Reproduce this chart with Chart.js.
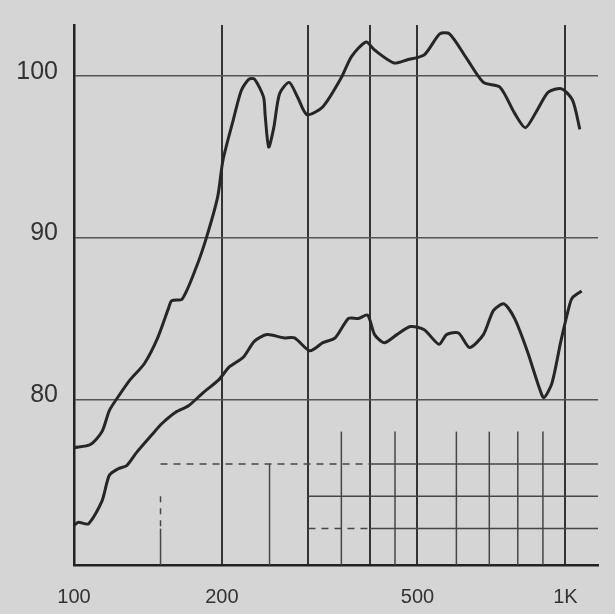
<!DOCTYPE html>
<html>
<head>
<meta charset="utf-8">
<script src="https://cdn.jsdelivr.net/npm/chart.js@4/dist/chart.umd.min.js"></script>
<style>
  body { margin: 0; background: #d5d5d5; }
  canvas { display: block; }
</style>
</head>
<body>
<canvas id="responseChart" width="615" height="614"></canvas>
<script>
// Upper response curve (Hz, dB)
const upperFreq = [100, 108, 114, 118, 122, 130, 139, 148, 156, 158, 166, 177, 186, 196, 201, 211, 219, 227, 233, 243, 245, 249, 255, 262, 274, 285, 298, 321, 350, 367, 393, 409, 448, 477, 516, 555, 581, 629, 681, 736, 788, 829, 873, 923, 983, 1034, 1070];
const upperLevel = [77.0, 77.2, 78.0, 79.3, 80.0, 81.2, 82.2, 83.8, 85.7, 86.1, 86.2, 88.1, 90.0, 92.5, 94.8, 97.3, 99.1, 99.8, 99.8, 98.7, 97.5, 95.6, 96.8, 98.9, 99.6, 98.7, 97.6, 98.1, 99.9, 101.2, 102.1, 101.6, 100.8, 101.0, 101.3, 102.6, 102.6, 101.1, 99.6, 99.3, 97.7, 96.8, 97.8, 99.0, 99.2, 98.5, 96.7];

// Lower response curve (Hz, dB)
const lowerFreq = [100, 102, 107, 114, 118, 123, 128, 134, 144, 151, 161, 171, 183, 197, 207, 221, 233, 247, 267, 281, 302, 321, 340, 362, 379, 396, 409, 428, 454, 484, 516, 553, 573, 606, 638, 681, 714, 750, 788, 836, 885, 904, 939, 979, 1021, 1034, 1079];
const lowerLevel = [72.2, 72.4, 72.3, 73.7, 75.3, 75.7, 75.9, 76.7, 77.8, 78.5, 79.2, 79.6, 80.4, 81.2, 82.0, 82.6, 83.6, 84.0, 83.8, 83.8, 83.0, 83.5, 83.8, 85.0, 85.0, 85.2, 84.0, 83.5, 84.0, 84.5, 84.3, 83.4, 84.0, 84.1, 83.2, 84.0, 85.5, 85.9, 85.0, 83.0, 80.7, 80.1, 81.0, 83.6, 85.9, 86.3, 86.7];

// Axes
const majorFreqs = [100, 200, 300, 400, 500, 1000];
const minorFreqs = [150, 250, 350, 450, 600, 700, 800, 900];
const freqLabels = { 100: '100', 200: '200', 500: '500', 1000: '1K' };
const levelTicks = [80, 90, 100];
const minorLevels = [72, 74, 76];

function toPoints(xs, ys) {
    return xs.map((f, i) => ({ x: f, y: ys[i] }));
}

/** Draws a grid segment between two data points. */
function segment(ctx, x0, y0, x1, y1, dash) {
    ctx.setLineDash(dash);
    ctx.beginPath();
    ctx.moveTo(x0, y0);
    ctx.lineTo(x1, y1);
    ctx.stroke();
}

/** Draws the short lower grid lines of the chart paper. */
const minorGrid = {
    id: 'minorGrid',
    beforeDatasetsDraw(chart) {
        const { ctx, scales: { x, y } } = chart;
        const bottom = y.getPixelForValue(y.min);
        ctx.save();
        ctx.strokeStyle = '#464646';
        ctx.lineWidth = 1.5;
        minorFreqs.forEach(f => {
            const px = x.getPixelForValue(f);
            if (f === 150) {
                segment(ctx, px, y.getPixelForValue(74), px, y.getPixelForValue(72), [6, 6]);
                segment(ctx, px, y.getPixelForValue(72), px, bottom, []);
            } else {
                const top = f === 250 ? 76 : 78;
                segment(ctx, px, y.getPixelForValue(top), px, bottom, []);
            }
        });
        minorLevels.forEach(l => {
            const py = y.getPixelForValue(l);
            if (l === 74) {
                segment(ctx, x.getPixelForValue(300), py, x.right, py, []);
            } else {
                const start = l === 76 ? 150 : 300;
                segment(ctx, x.getPixelForValue(start), py, x.getPixelForValue(400), py, [7, 6]);
                segment(ctx, x.getPixelForValue(400), py, x.right, py, []);
            }
        });
        ctx.restore();
    }
};

const lineStyle = {
    borderColor: '#262626',
    borderWidth: 3,
    pointRadius: 0,
    tension: 0.25,
    fill: false
};

new Chart(document.getElementById('responseChart'), {
    type: 'line',
    data: {
        datasets: [
            { data: toPoints(upperFreq, upperLevel), ...lineStyle },
            { data: toPoints(lowerFreq, lowerLevel), ...lineStyle }
        ]
    },
    options: {
        responsive: false,
        animation: false,
        layout: { padding: { top: 25, right: 17, left: 0, bottom: 0 } },
        plugins: {
            legend: { display: false },
            tooltip: { enabled: false }
        },
        scales: {
            x: {
                type: 'logarithmic',
                min: 100,
                max: 1165,
                afterBuildTicks: s => { s.ticks = majorFreqs.map(v => ({ value: v })); },
                afterFit: s => { s.height = 49; s.paddingLeft = 0; s.paddingRight = 0; },
                grid: { color: '#333', lineWidth: 2, drawTicks: false },
                border: { color: '#222', width: 2.5 },
                ticks: {
                    autoSkip: false,
                    maxRotation: 0,
                    padding: 20,
                    color: '#333',
                    font: { family: 'Liberation Sans', size: 20 },
                    callback: v => freqLabels[v] || ''
                }
            },
            y: {
                min: 69.75,
                max: 103.15,
                afterBuildTicks: s => { s.ticks = levelTicks.map(v => ({ value: v })); },
                afterFit: s => { s.width = 74; s.paddingTop = 0; s.paddingBottom = 0; },
                grid: { color: '#555', lineWidth: 1.5, drawTicks: false },
                border: { color: '#222', width: 2.5 },
                ticks: {
                    padding: 16,
                    labelOffset: -4,
                    color: '#333',
                    font: { family: 'Liberation Sans', size: 25 },
                    callback: v => v
                }
            }
        }
    },
    plugins: [minorGrid]
});
</script>
</body>
</html>
